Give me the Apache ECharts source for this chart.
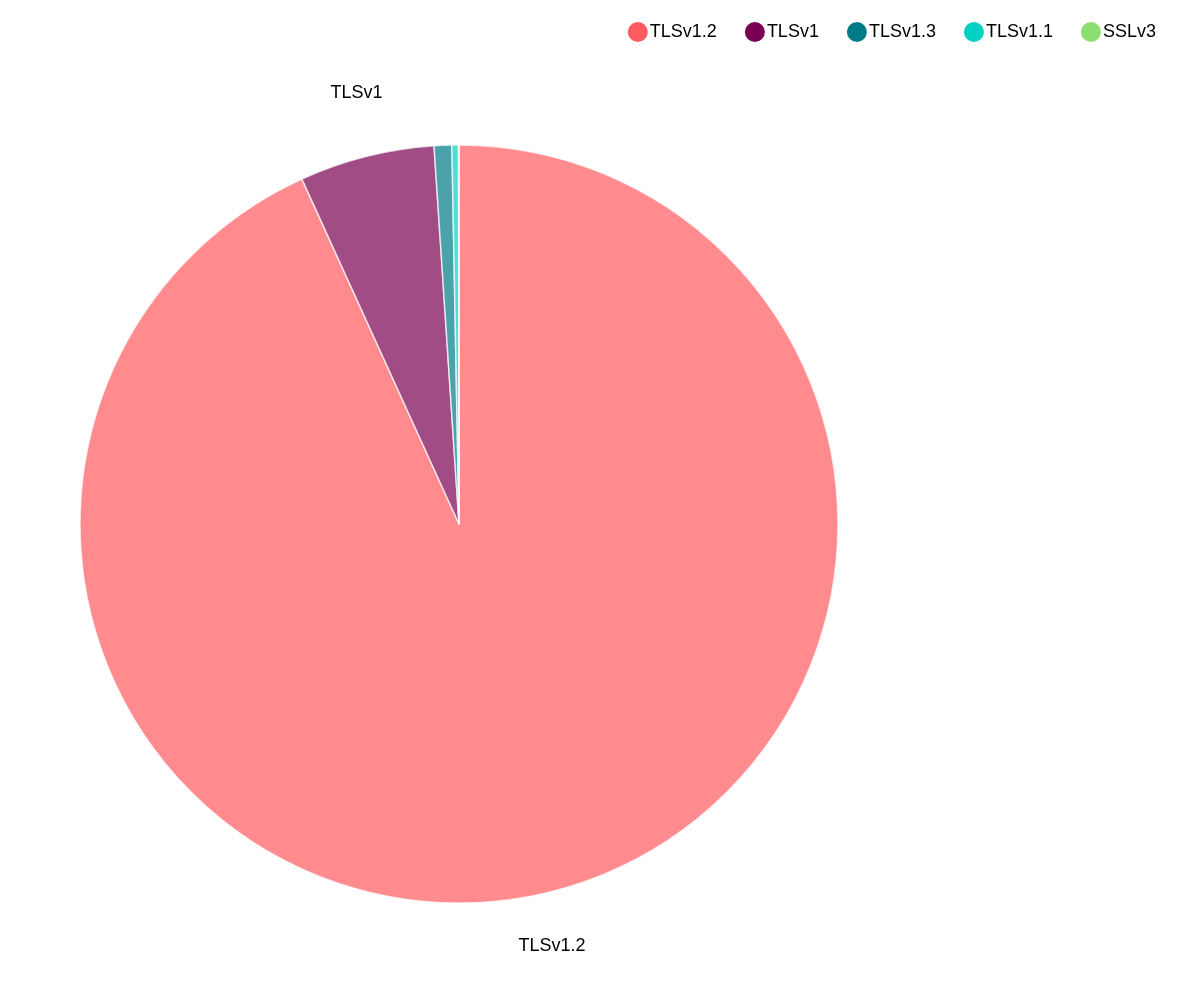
<!DOCTYPE html>
<html><head><meta charset="utf-8">
<script src="https://cdn.jsdelivr.net/npm/echarts@6/dist/echarts.min.js"></script>
<style>html,body{margin:0;padding:0;background:#fff}#c{width:1200px;height:995px}</style>
</head><body><div id="c"></div>
<script>
const categories = ['TLSv1.2', 'TLSv1', 'TLSv1.3', 'TLSv1.1', 'SSLv3'];
const values = [93.2, 5.75, 0.75, 0.28, 0.02];
const colors = ['#ff5a5f', '#7b0051', '#007a87', '#00d1c1', '#8ce071'];
const labelLens = [53, 65, 60, 60, 60];

const chart = echarts.init(document.getElementById('c'));
chart.setOption({
  animation: false,
  color: colors,
  legend: {
    top: 17, right: 39,
    icon: 'circle', itemWidth: 20, itemHeight: 20, itemGap: 28,
    itemStyle: { opacity: 1, borderWidth: 0 },
    textStyle: { fontFamily: 'Liberation Sans, Arial', fontSize: 18, color: '#000', padding: [0, 0, 0, -3] },
    data: categories
  },
  series: [{
    type: 'pie',
    center: [459, 524],
    radius: [0, 379],
    clockwise: true,
    startAngle: 90,
    minShowLabelAngle: 3,
    itemStyle: { opacity: 0.7, borderColor: '#fff', borderWidth: 1.5 },
    label: {
      position: 'outside', fontFamily: 'Liberation Sans, Arial', fontSize: 18, color: '#000', opacity: 1,
      distanceToLabelLine: -32
    },
    labelLine: { show: false, length2: 0 },
    emphasis: { disabled: true },
    data: categories.map((n, i) => ({ name: n, value: values[i], labelLine: { show: false, length: labelLens[i], length2: 0 } }))
  }]
});
</script></body></html>
